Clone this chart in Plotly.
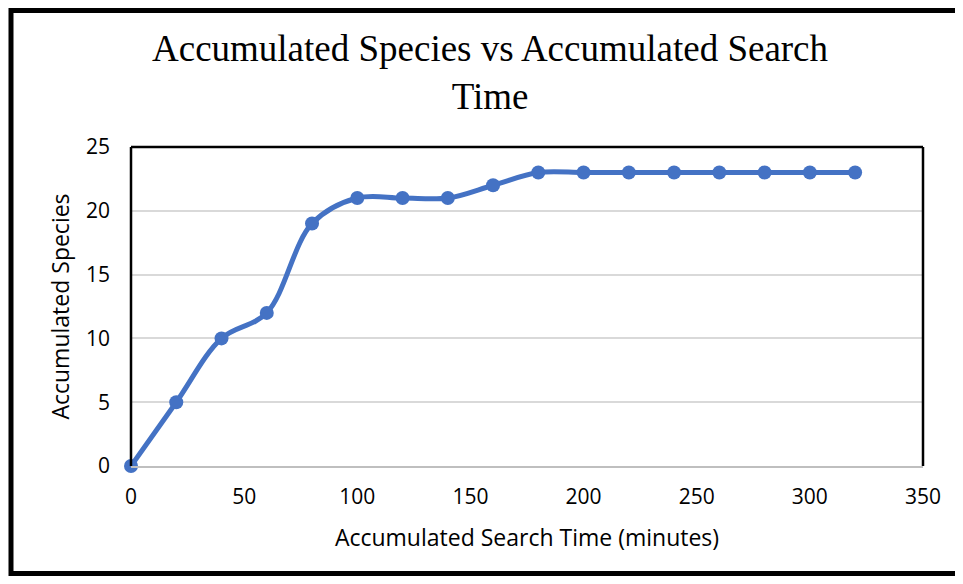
import plotly.graph_objects as go

search_time = [0, 20, 40, 60, 80, 100, 120, 140, 160, 180, 200, 220, 240, 260, 280, 300, 320]
species = [0, 5, 10, 12, 19, 21, 21, 21, 22, 23, 23, 23, 23, 23, 23, 23, 23]
x_ticks = [0, 50, 100, 150, 200, 250, 300, 350]
y_ticks = [0, 5, 10, 15, 20, 25]

# the page has the browser's default 8px body margin
OFF = 8
W, H = 963 - 2 * OFF, 584 - 2 * OFF
L, R, T, B = 131 - OFF, 923 - OFF, 147 - OFF, 466 - OFF
pw, ph = R - L, B - T

def px(x):
    return (x - L) / pw

def py(y):
    return (B - y) / ph

blue = "#4472C4"
sans = "Open Sans, Noto Sans, sans-serif"
serif = "Liberation Serif, Times New Roman, serif"

fig = go.Figure()
fig.add_trace(go.Scatter(
    x=search_time, y=species, mode="lines+markers",
    line=dict(color=blue, width=5, shape="spline", smoothing=1.0),
    marker=dict(color=blue, size=14),
    showlegend=False, cliponaxis=False,
))

shapes = []
# plot area border: left, top, right in black
for (x0, y0, x1, y1) in [(L, T, L, B), (L, T, R, T), (R, T, R, B)]:
    shapes.append(dict(type="line", xref="paper", yref="paper",
                       x0=px(x0), y0=py(y0), x1=px(x1), y1=py(y1),
                       line=dict(color="black", width=2.5), layer="above"))

# outer frame: one open path (top, left, bottom), drawn in paper coordinates
def pt(x, y):
    return f"{px(x):.5f},{py(y):.5f}"

frame_path = f"M {pt(W, 2.5)} L {pt(3, 2.5)} L {pt(3, H - 2.5)} L {pt(W, H - 2.5)}"
shapes.append(dict(type="path", xref="paper", yref="paper", path=frame_path,
                   line=dict(color="black", width=5), fillcolor="rgba(0,0,0,0)",
                   layer="above"))

fig.update_layout(
    width=W, height=H,
    margin=dict(l=L, r=W - R, t=T, b=H - B, pad=0),
    paper_bgcolor="white", plot_bgcolor="white",
    annotations=[dict(text="Accumulated Species vs Accumulated Search<br>Time",
                      xref="paper", yref="paper", x=px(490 - OFF), y=py(72 - OFF),
                      xanchor="center", yanchor="middle", showarrow=False,
                      font=dict(family=serif, size=37, color="black"))],
    xaxis=dict(range=[0, 350], tickvals=x_ticks, showgrid=False, zeroline=False,
               showline=True, linecolor="#BFBFBF", linewidth=1.5,
               ticks="", ticklabelstandoff=11,
               tickfont=dict(family=sans, size=21, color="black"),
               title=dict(text="Accumulated Search Time (minutes)", standoff=21,
                          font=dict(family=sans, size=23, color="black"))),
    yaxis=dict(range=[0, 25], tickvals=y_ticks, showgrid=True, gridcolor="#D9D9D9", gridwidth=1.5,
               zeroline=False, showline=False, ticks="", ticklabelstandoff=20,
               tickfont=dict(family=sans, size=21, color="black"),
               title=dict(text="Accumulated Species", standoff=9,
                          font=dict(family=sans, size=23, color="black"))),
    shapes=shapes,
)

fig.write_html("out.html")
